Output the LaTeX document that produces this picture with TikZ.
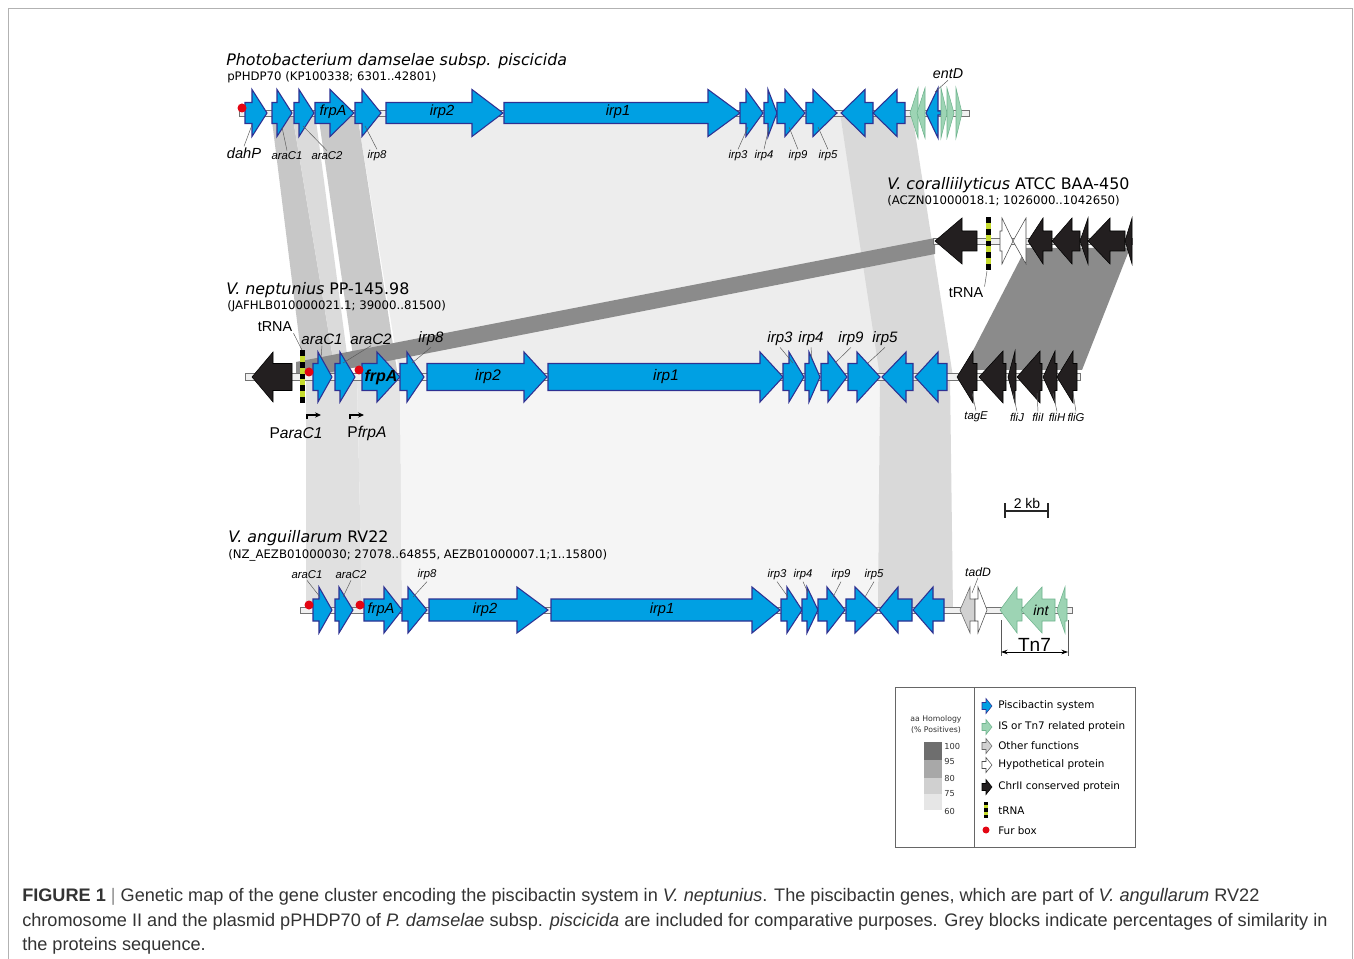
\documentclass[tikz,border=0pt]{standalone}
\usepackage{fontspec}
\setmainfont{Liberation Sans}
\newfontfamily\vfont{DejaVu Sans}
\usetikzlibrary{arrows.meta}
\definecolor{pbBlue}{HTML}{00A0E3}
\definecolor{pbEdge}{HTML}{2E3192}
\definecolor{isGreen}{HTML}{9DD4B4}
\definecolor{isGreenD}{HTML}{6FB48E}
\definecolor{chrDark}{HTML}{231F20}
\definecolor{trnaY}{HTML}{C6DB2E}
\definecolor{furRed}{HTML}{E30613}
\definecolor{homA}{HTML}{6E6E6E}
\definecolor{homB}{HTML}{A8A8A8}
\definecolor{homC}{HTML}{D0D0D0}
\definecolor{homD}{HTML}{E6E6E6}
\definecolor{homDark}{HTML}{8B8B8B}
\tikzset{
  frame/.style={draw=black!30, line width=0.6pt},
  backbone/.style={draw=black!55, fill=black!6, line width=0.5pt},
  piscib/.style={draw=pbEdge, fill=pbBlue, line width=0.8pt},
  isprot/.style={draw=isGreenD, fill=isGreen, line width=0.4pt},
  chrii/.style={draw=black, fill=chrDark, line width=0.4pt},
  hypo/.style={draw=black!70, fill=white, line width=0.4pt},
  otherf/.style={draw=black!60, fill=black!18, line width=0.4pt},
  ttl/.style={font=\vfont\fontsize{11.9}{13}\selectfont, anchor=west, inner sep=0pt},
  acc/.style={font=\vfont\fontsize{8.8}{10}\selectfont, anchor=west, inner sep=0pt},
  glabs/.style={font=\fontsize{8.5}{9}\selectfont\itshape, inner sep=0.8pt},
  glabm/.style={font=\fontsize{11.3}{12}\selectfont\itshape, inner sep=0.8pt},
  ingene/.style={font=\fontsize{11}{12}\selectfont\itshape, inner sep=0pt},
  plainlab/.style={font=\fontsize{10.8}{12}\selectfont, inner sep=0.8pt},
  leader/.style={draw=black!65, line width=0.35pt},
  fur/.style={fill=furRed},
  prom/.style={-{Stealth[length=4.5pt,width=4pt]}, line width=0.8pt},
  sbar/.style={line width=1.4pt, black!85},
  legbox/.style={draw=black!60, line width=0.6pt},
  legtxt/.style={font=\vfont\fontsize{7.8}{9}\selectfont, anchor=west, inner sep=0pt},
  legsmall/.style={font=\vfont\fontsize{5.8}{7}\selectfont, inner sep=0pt, text=black!80},
  legnum/.style={font=\vfont\fontsize{6.2}{7}\selectfont, anchor=west, inner sep=0pt, text=black!80},
  capt/.style={font=\fontsize{13.6}{16}\selectfont, anchor=west, inner sep=0pt, text=black!80}
}
% genes: style, start, head, end (forward) / tip, head back, end (reverse)
\newcommand{\fgene}[4]{\draw[#1] (#2,\trY-\trB) -- (#3,\trY-\trB) -- (#3,\trY-\trH) -- (#4,\trY) -- (#3,\trY+\trH) -- (#3,\trY+\trB) -- (#2,\trY+\trB) -- cycle;}
\newcommand{\rgene}[4]{\draw[#1] (#2,\trY) -- (#3,\trY-\trH) -- (#3,\trY-\trB) -- (#4,\trY-\trB) -- (#4,\trY+\trB) -- (#3,\trY+\trB) -- (#3,\trY+\trH) -- cycle;}
% tRNA bar: x1, x2, y1, y2, segments, last yellow index
\newcommand{\trnabar}[6]{%
  \fill[black] (#1,#3) rectangle (#2,#4);
  \pgfmathsetmacro\sg{(#4-#3)/#5}
  \foreach \k in {1,3,...,#6} \fill[trnaY] (#1,{#3+\k*\sg}) rectangle (#2,{#3+(\k+1)*\sg});
}
\begin{document}
\begin{tikzpicture}[x=0.75pt, y=-0.75pt]
\useasboundingbox (0,0) rectangle (1354,959);
\fill[white] (0,0) rectangle (1354,959);
\draw[frame] (8,959) -- (8,8) -- (1352,8) -- (1352,959);

% homology blocks, P. damselae -> V. neptunius
\fill[black!7] (357,113) -- (840,113) -- (882,377) -- (400,377) -- cycle;
\fill[black!15] (840,113) -- (912,113) -- (953,377) -- (880,377) -- cycle;
\fill[black!22] (271,113) -- (292,113) -- (336,377) -- (304,377) -- cycle;
\fill[black!14] (292,113) -- (315,113) -- (350,377) -- (336,377) -- cycle;
\fill[black!21] (318,113) -- (357,113) -- (398,377) -- (356,377) -- cycle;
% V. coralliilyticus -> V. neptunius
\fill[homDark] (296,362) -- (935,238) -- (935,254) -- (296,379) -- cycle;
\fill[homDark] (1026,248) -- (1130,248) -- (1082,370) -- (963,370) -- cycle;
% V. neptunius -> V. anguillarum
\fill[black!12] (306,377) -- (357,377) -- (362,610) -- (306,610) -- cycle;
\fill[black!10] (357,377) -- (400,377) -- (402,610) -- (362,610) -- cycle;
\fill[black!4] (400,377) -- (880,377) -- (878,610) -- (402,610) -- cycle;
\fill[black!15] (880,377) -- (950,377) -- (953,610) -- (878,610) -- cycle;

% P. damselae subsp. piscicida
\node[ttl] (pd-title) at (226,61) {\itshape Photobacterium damselae subsp. piscicida};
\node[acc] (pd-acc) at (227,77) {pPHDP70 (KP100338; 6301..42801)};
\def\trY{113}\def\trB{10.5}\def\trH{23.5}
\draw[backbone] (239,110) rectangle (969,116);
\foreach \xa/\xb/\xc in {245/252/267, 272/277/292, 294/299/314, 315/330/354, 355/362/381,
  386/472/503, 504/708/740, 740/746/763, 764/768/777, 777/785/805, 806/813/837}
  {\fgene{piscib}{\xa}{\xb}{\xc}}
\rgene{piscib}{841}{865}{873}
\rgene{piscib}{873}{897}{905}
\def\trH{25}\def\trB{2}
\rgene{isprot}{910}{918}{918}
\rgene{isprot}{917}{925}{925}
\rgene{piscib}{926}{938}{941}
\foreach \xa/\xc in {941/947, 947/954, 956/962} {\fgene{isprot}{\xa}{\xa}{\xc}}
\fill[fur] (242,108) circle (4.5);
\node[ingene] (pd-frpA) at (333,112) {frpA};
\node[ingene] (pd-irp2) at (442,112) {irp2};
\node[ingene] (pd-irp1) at (618,112) {irp1};
\node[font=\fontsize{11}{12}\selectfont\itshape, inner sep=0.8pt] (pd-dahP) at (244,153) {dahP};
\coordinate (pdg-dahP) at (252,125);
\draw[leader] (pdg-dahP) -- (pd-dahP.north);
\foreach \n/\lx/\gx/\gy in {araC1/287/282/127, araC2/327/303/126, irp8/377/365/126,
  irp3/738/748/127, irp4/764/769/127, irp9/798/789/127, irp5/828/818/127}{
  \node[glabs] (pd-\n) at (\lx,156) {\n};
  \coordinate (pdg-\n) at (\gx,\gy);
  \draw[leader] (pdg-\n) -- (pd-\n.north);
}
\node[font=\fontsize{10.7}{12}\selectfont\itshape, inner sep=0.8pt] (pd-entD) at (948,74) {entD};
\coordinate (pdg-entD) at (935,92);
\draw[leader] (pdg-entD) -- (pd-entD.south);

% V. coralliilyticus ATCC BAA-450
\node[ttl] (vc-title) at (887,185) {\textit{V. coralliilyticus} ATCC BAA-450};
\node[acc] (vc-acc) at (887,201) {(ACZN01000018.1; 1026000..1042650)};
\def\trY{241}\def\trB{10}\def\trH{23}
\draw[backbone] (933,238.5) rectangle (1132,244);
\rgene{chrii}{935}{962}{977}
\fgene{hypo}{1000}{1002}{1013}
\rgene{hypo}{1013}{1026}{1026}
\foreach \xa/\xb/\xc in {1028/1043/1052, 1052/1072/1080, 1080/1088/1088, 1088/1110/1125, 1125/1132/1132}
  {\rgene{chrii}{\xa}{\xb}{\xc}}
\trnabar{986}{991}{217}{270}{9}{7}
\node[plainlab] (vc-tRNA) at (966,293) {tRNA};
\coordinate (vcg-tRNA) at (987,271);
\draw[leader] (vcg-tRNA) -- (vc-tRNA.north east);

% V. neptunius PP-145.98
\node[ttl] (vn-title) at (226,290) {\textit{V. neptunius} PP-145.98};
\node[acc] (vn-acc) at (227,306) {(JAFHLB010000021.1; 39000..81500)};
\def\trY{377}\def\trB{13.5}\def\trH{25}
\draw[backbone] (245,373.5) rectangle (1080,380);
\rgene{chrii}{252}{273}{292}
\foreach \xa/\xb/\xc in {313/318/332, 335/340/355, 362/377/400, 400/407/424, 427/524/547,
  548/760/783, 783/789/804, 805/809/820, 821/828/847, 848/857/880}
  {\fgene{piscib}{\xa}{\xb}{\xc}}
\rgene{piscib}{882}{906}{913}
\rgene{piscib}{915}{938}{947}
\def\trH{26}
\foreach \xa/\xb/\xc in {957/973/977, 979/1003/1006, 1008/1015/1016, 1017/1040/1042, 1043/1055/1057, 1057/1073/1077}
  {\rgene{chrii}{\xa}{\xb}{\xc}}
\trnabar{300}{305}{350}{403}{9}{7}
\fill[fur] (309,372) circle (4.5);
\fill[fur] (359,370) circle (4.5);
\node[ingene, font=\fontsize{12}{13}\selectfont\bfseries\itshape] (vn-frpA) at (381,377) {frpA};
\node[ingene, font=\fontsize{11.5}{12}\selectfont\itshape] (vn-irp2) at (488,377) {irp2};
\node[ingene, font=\fontsize{11.5}{12}\selectfont\itshape] (vn-irp1) at (666,377) {irp1};
\node[plainlab] (vn-tRNA) at (275,327) {tRNA};
\coordinate (vng-tRNA) at (302,350);
\draw[leader] (vng-tRNA) -- (vn-tRNA.south east);
\foreach \n/\lx/\gx/\gy in {araC1/322/321/358, araC2/371/343/363, irp8/431/412/363,
  irp3/780/793/363, irp4/811/812/360, irp9/851/835/363, irp5/885/868/363}{
  \node[glabm] (vn-\n) at (\lx,339) {\n};
  \coordinate (vng-\n) at (\gx,\gy);
  \draw[leader] (vng-\n) -- (vn-\n.south);
}
\foreach \n/\lx/\gx in {tagE/976/972, fliJ/1017/1013, fliI/1038/1037, fliH/1057/1053, fliG/1076/1073}{
  \node[glabs] (vn-\n) at (\lx,417) {\n};
  \coordinate (vng-\n) at (\gx,393);
  \draw[leader] (vng-\n) -- (vn-\n.north);
}
\coordinate (pa1s) at (307,419);
\coordinate (pa1e) at (321,415);
\draw[prom] (pa1s) |- (pa1e);
\coordinate (pa2s) at (350,419);
\coordinate (pa2e) at (364,415);
\draw[prom] (pa2s) |- (pa2e);
\node[font=\fontsize{11.7}{13}\selectfont, inner sep=0pt] (vn-ParaC1) at (296,433) {P\textit{araC1}};
\node[font=\fontsize{11.7}{13}\selectfont, inner sep=0pt] (vn-PfrpA) at (367,433) {P\textit{frpA}};

% scale bar
\coordinate (sbL) at (1005,511);
\coordinate (sbR) at (1048,511);
\draw[sbar] (sbL) -- (sbR);
\draw[sbar] (1005,503) -- (1005,518);
\draw[sbar] (1048,503) -- (1048,518);
\node[font=\fontsize{10.5}{12}\selectfont, inner sep=0pt, anchor=south] (sb-txt) at (1027,509) {2 kb};

% V. anguillarum RV22
\node[ttl] (va-title) at (228,538) {\textit{V. anguillarum} RV22};
\node[acc] (va-acc) at (228,555) {(NZ\_AEZB01000030; 27078..64855, AEZB01000007.1;1..15800)};
\def\trY{610}\def\trB{11}\def\trH{23}
\draw[backbone] (300,607) rectangle (1072,613);
\foreach \xa/\xb/\xc in {313/319/332, 335/339/353, 364/384/402, 402/408/427, 429/517/548,
  551/752/780, 781/787/802, 802/807/818, 818/827/845, 846/855/878}
  {\fgene{piscib}{\xa}{\xb}{\xc}}
\rgene{piscib}{879}{898}{912}
\rgene{piscib}{913}{933}{944}
\rgene{otherf}{960}{970}{975}
\fgene{hypo}{975}{978}{987}
\rgene{isprot}{1000}{1017}{1022}
\rgene{isprot}{1021}{1042}{1055}
\rgene{isprot}{1057}{1065}{1067}
\fill[fur] (309,605) circle (4.5);
\fill[fur] (360,605) circle (4.5);
\node[ingene] (va-frpA) at (381,610) {frpA};
\node[ingene] (va-irp2) at (485,610) {irp2};
\node[ingene] (va-irp1) at (662,610) {irp1};
\node[ingene, font=\fontsize{10.7}{12}\selectfont\itshape] (va-int) at (1041,610) {int};
\foreach \n/\lx/\gx/\gy in {araC1/307/320/597, araC2/351/343/597, irp8/427/413/597,
  irp3/777/788/597, irp4/803/808/593, irp9/841/833/597, irp5/874/865/597}{
  \node[glabs] (va-\n) at (\lx,575) {\n};
  \coordinate (vag-\n) at (\gx,\gy);
  \draw[leader] (vag-\n) -- (va-\n.south);
}
\node[glabs, font=\fontsize{9.1}{10}\selectfont\itshape] (va-tadD) at (978,572) {tadD};
\coordinate (vag-tadD) at (972,593);
\draw[leader] (vag-tadD) -- (va-tadD.south);
% Tn7 span
\draw[leader, line width=0.5pt] (1001,620) -- (1001,656);
\draw[leader, line width=0.5pt] (1068,620) -- (1068,656);
\coordinate (tnL) at (1001,652);
\coordinate (tnR) at (1068,652);
\draw[{Stealth[length=5pt,width=3.5pt]}-{Stealth[length=5pt,width=3.5pt]}, line width=0.6pt] (tnL) -- (tnR);
\node[font=\fontsize{14.3}{16}\selectfont, inner sep=0pt, anchor=south] (tn7) at (1034.5,652) {Tn7};

% legend
\draw[legbox] (895,687) rectangle (1135,847);
\draw[legbox] (974,687) -- (974,847);
\node[legsmall] (lg-h1) at (936,719) {aa Homology};
\node[legsmall] (lg-h2) at (936,730) {(\% Positives)};
\fill[homA] (924,742) rectangle (942,760);
\fill[homB] (924,760) rectangle (942,778);
\fill[homC] (924,778) rectangle (942,794);
\fill[homD] (924,794) rectangle (942,810);
\foreach \v/\vy in {100/746, 95/761, 80/778, 75/794, 60/811}
  {\node[legnum] (lg-n\v) at (944,\vy) {\v};}
\def\trB{3.5}\def\trH{7.5}
\foreach \st/\iy/\txt in {piscib/706/Piscibactin system, isprot/727/IS or Tn7 related protein,
  otherf/746/Other functions, hypo/765/Hypothetical protein, chrii/787/ChrII conserved protein}{
  \def\trY{\iy}
  \fgene{\st, line width=0.4pt}{982}{986}{992}
  \node[legtxt] (lg-\iy) at (998,\iy) {\txt};
}
\trnabar{983.5}{987.5}{802}{818}{5}{3}
\node[legtxt] (lg-tRNA) at (998,811) {tRNA};
\fill[fur] (986,830) circle (3.5);
\node[legtxt] (lg-fur) at (998,831) {Fur box};

% caption
\node[capt] (cap1) at (22,897) {\textbf{FIGURE 1} {\color{black!45}|} Genetic map of the gene cluster encoding the piscibactin system in \textit{V. neptunius}. The piscibactin genes, which are part of \textit{V. angullarum} RV22};
\node[capt] (cap2) at (22,922) {chromosome II and the plasmid pPHDP70 of \textit{P. damselae} subsp. \textit{piscicida} are included for comparative purposes. Grey blocks indicate percentages of similarity in};
\node[capt] (cap3) at (22,946) {the proteins sequence.};
\end{tikzpicture}
\end{document}
